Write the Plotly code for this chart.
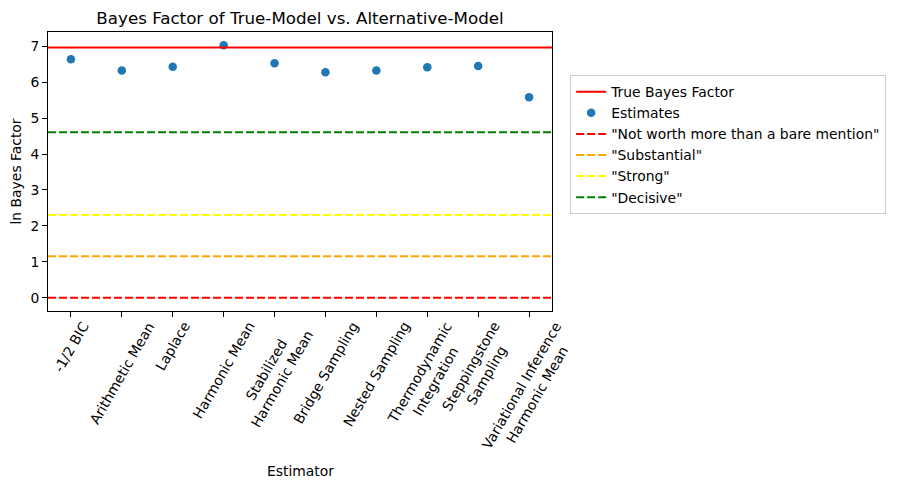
import numpy as np
import plotly.graph_objects as go

# estimators on the x axis
estimators = [
    "-1/2 BIC",
    "Arithmetic Mean",
    "Laplace",
    "Harmonic Mean",
    "Stabilized<br>Harmonic Mean",
    "Bridge Sampling",
    "Nested Sampling",
    "Thermodynamic<br>Integration",
    "Steppingstone<br>Sampling",
    "Variational Inference<br>Harmonic Mean",
]
# ln Bayes factor estimates
estimates = [6.64, 6.33, 6.43, 7.03, 6.53, 6.28, 6.33, 6.42, 6.45, 5.58]
true_bf = 6.97

# Jeffreys scale thresholds
thresh_names = ['"Not worth more than a bare mention"', '"Substantial"', '"Strong"', '"Decisive"']
thresh_values = [0.0, np.log(10 ** 0.5), np.log(10), np.log(100)]
thresh_colors = ["red", "orange", "yellow", "green"]

FONT = "DejaVu Sans"
idx = list(range(len(estimators)))

fig = go.Figure()

# true value as a full-width line, shown in the legend
fig.add_shape(
    type="line", xref="x domain", x0=0, x1=1, yref="y", y0=true_bf, y1=true_bf,
    line=dict(color="red", width=2), showlegend=True, name="True Bayes Factor",
    legendrank=1,
)

fig.add_trace(go.Scatter(
    x=idx, y=estimates, mode="markers", name="Estimates",
    marker=dict(color="#1f77b4", size=8.5), legendrank=2,
))

for i, (nm, val, col) in enumerate(zip(thresh_names, thresh_values, thresh_colors)):
    fig.add_shape(
        type="line", xref="x domain", x0=0, x1=1, yref="y", y0=val, y1=val,
        line=dict(color=col, width=2, dash="8px,3px"), showlegend=True, name=nm,
        legendrank=3 + i,
    )

# rotated tick labels centred on the ticks (matplotlib style)
for i, lab in zip(idx, estimators):
    fig.add_annotation(
        x=i, xref="x", y=0, yref="paper", yshift=-5,
        text=lab, textangle=-60, showarrow=False,
        xanchor="center", yanchor="top", align="center",
        font=dict(family=FONT, size=13.9, color="black"),
    )

fig.add_annotation(
    x=0.5, xref="paper", y=-0.573, yref="paper", text="Estimator",
    showarrow=False, xanchor="center", yanchor="middle",
    font=dict(family=FONT, size=13.9, color="black"),
)
fig.add_annotation(
    x=-0.0635, xref="paper", y=0.5, yref="paper", text="ln Bayes Factor",
    textangle=-90, showarrow=False, xanchor="center", yanchor="middle",
    font=dict(family=FONT, size=13.9, color="black"),
)

fig.update_layout(
    width=898, height=490,
    margin=dict(l=40, r=354, t=24, b=187),
    paper_bgcolor="white", plot_bgcolor="white",
    font=dict(family=FONT, size=13.9, color="black"),
    title=dict(
        text="Bayes Factor of True-Model vs. Alternative-Model",
        x=0.5, xref="paper", y=1 - 10 / 490, yanchor="middle",
        font=dict(family=FONT, size=16.7, color="black"),
    ),
    xaxis=dict(
        range=[-0.45, 9.45], tickvals=idx, showticklabels=False,
        ticks="outside", ticklen=5, tickcolor="black",
        showline=True, linecolor="black", linewidth=1, mirror=True,
        showgrid=False, zeroline=False,
    ),
    yaxis=dict(
        range=[-0.37, 7.40], tickvals=list(range(8)),
        ticks="outside", ticklen=5, tickcolor="black",
        showline=True, linecolor="black", linewidth=1, mirror=True,
        showgrid=False, zeroline=False,
    ),
    legend=dict(
        x=1.036, y=0.845, xanchor="left", yanchor="top",
        bordercolor="#cccccc", borderwidth=1, bgcolor="white",
        font=dict(family=FONT, size=13.9, color="black"),
        tracegroupgap=0,
    ),
    showlegend=True,
)

fig.write_html("out.html")
